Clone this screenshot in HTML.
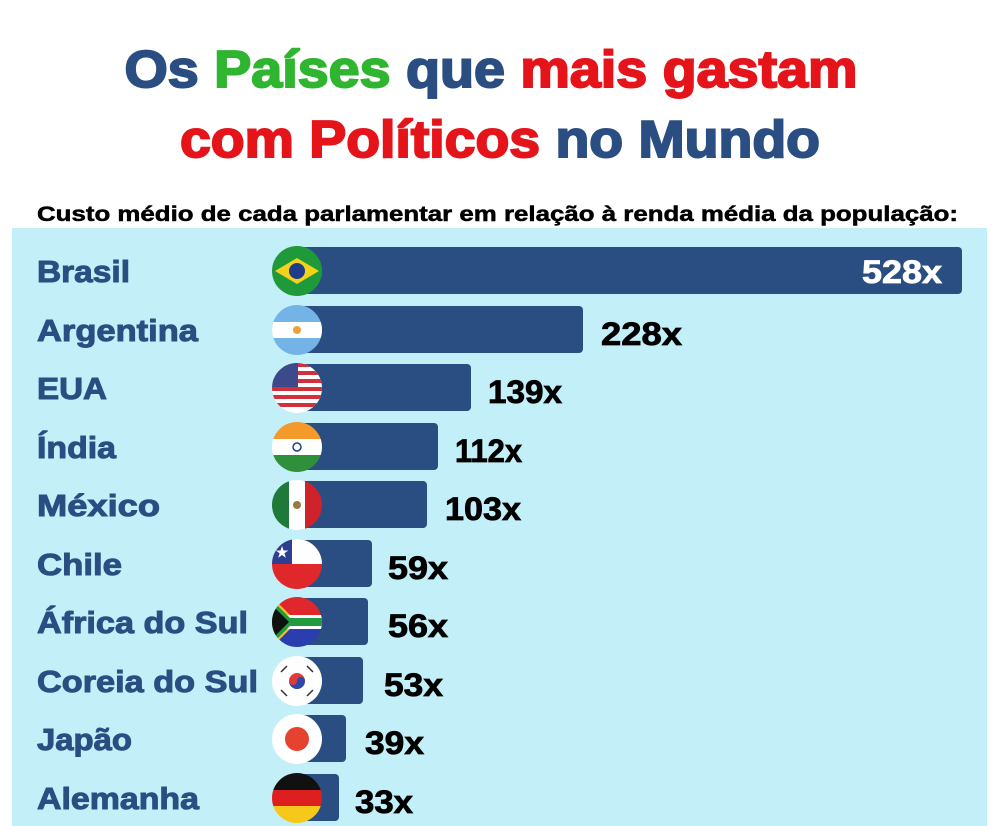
<!DOCTYPE html>
<html><head><meta charset="utf-8"><style>
html,body{margin:0;padding:0;background:#fff;}
svg{display:block;}
text{font-family:"Liberation Sans",Arial,sans-serif;font-weight:bold;}
</style></head><body>
<svg width="1000" height="826" viewBox="0 0 1000 826" xmlns="http://www.w3.org/2000/svg">
<rect width="1000" height="826" fill="#fff"/>
<text x="491" y="87" font-size="52" text-anchor="middle" textLength="733" lengthAdjust="spacingAndGlyphs" stroke-width="2"><tspan fill="#2a4e82" stroke="#2a4e82">Os </tspan><tspan fill="#2fb52f" stroke="#2fb52f">Países </tspan><tspan fill="#2a4e82" stroke="#2a4e82">que </tspan><tspan fill="#e5141b" stroke="#e5141b">mais gastam</tspan></text>
<text x="500" y="157" font-size="52" text-anchor="middle" textLength="640" lengthAdjust="spacingAndGlyphs" stroke-width="2"><tspan fill="#e5141b" stroke="#e5141b">com Políticos </tspan><tspan fill="#2a4e82" stroke="#2a4e82">no Mundo</tspan></text>
<text x="37" y="221" font-size="21" fill="#000" stroke="#000" stroke-width="0.5" textLength="921" lengthAdjust="spacingAndGlyphs">Custo médio de cada parlamentar em relação à renda média da população:</text>
<rect x="12" y="228" width="975" height="598" fill="#c2eff8"/>
<defs>
<clipPath id="c1"><circle cx="297" cy="330" r="25"/></clipPath>
<clipPath id="c2"><circle cx="297" cy="388" r="25"/></clipPath>
<clipPath id="c3"><circle cx="297" cy="447" r="25"/></clipPath>
<clipPath id="c4"><circle cx="297" cy="505" r="25"/></clipPath>
<clipPath id="c5"><circle cx="297" cy="564" r="25"/></clipPath>
<clipPath id="c6"><circle cx="297" cy="622" r="25"/></clipPath>
<clipPath id="c9"><circle cx="297" cy="798" r="25"/></clipPath>
</defs>
<g fill="#2a4e82">
<rect x="300" y="247" width="662" height="47" rx="4"/>
<rect x="300" y="306" width="283" height="47" rx="4"/>
<rect x="300" y="364" width="171" height="47" rx="4"/>
<rect x="300" y="423" width="138" height="47" rx="4"/>
<rect x="300" y="481" width="127" height="47" rx="4"/>
<rect x="300" y="540" width="72" height="47" rx="4"/>
<rect x="300" y="598" width="68" height="47" rx="4"/>
<rect x="300" y="657" width="63" height="47" rx="4"/>
<rect x="300" y="715" width="46" height="47" rx="4"/>
<rect x="300" y="774" width="39" height="47" rx="4"/>
</g>
<g font-size="31" fill="#2a4e82" stroke="#2a4e82" stroke-width="1">
<text x="37" y="282" textLength="93" lengthAdjust="spacingAndGlyphs">Brasil</text>
<text x="37" y="341" textLength="161" lengthAdjust="spacingAndGlyphs">Argentina</text>
<text x="37" y="399" textLength="70" lengthAdjust="spacingAndGlyphs">EUA</text>
<text x="37" y="458" textLength="79" lengthAdjust="spacingAndGlyphs">Índia</text>
<text x="37" y="516" textLength="123" lengthAdjust="spacingAndGlyphs">México</text>
<text x="37" y="575" textLength="85" lengthAdjust="spacingAndGlyphs">Chile</text>
<text x="37" y="633" textLength="211" lengthAdjust="spacingAndGlyphs">África do Sul</text>
<text x="37" y="692" textLength="221" lengthAdjust="spacingAndGlyphs">Coreia do Sul</text>
<text x="37" y="750" textLength="95" lengthAdjust="spacingAndGlyphs">Japão</text>
<text x="37" y="809" textLength="162" lengthAdjust="spacingAndGlyphs">Alemanha</text>
</g>
<g font-size="32" fill="#000" stroke="#000" stroke-width="0.8" lengthAdjust="spacingAndGlyphs">
<text x="862" y="283" fill="#fff" stroke="#fff" textLength="80" lengthAdjust="spacingAndGlyphs">528x</text>
<text x="601" y="345" textLength="81" lengthAdjust="spacingAndGlyphs">228x</text>
<text x="488" y="403" textLength="74" lengthAdjust="spacingAndGlyphs">139x</text>
<text x="455" y="462" textLength="67" lengthAdjust="spacingAndGlyphs">112x</text>
<text x="445" y="520" textLength="76" lengthAdjust="spacingAndGlyphs">103x</text>
<text x="388" y="579" textLength="60" lengthAdjust="spacingAndGlyphs">59x</text>
<text x="388" y="637" textLength="60" lengthAdjust="spacingAndGlyphs">56x</text>
<text x="384" y="696" textLength="59" lengthAdjust="spacingAndGlyphs">53x</text>
<text x="365" y="754" textLength="59" lengthAdjust="spacingAndGlyphs">39x</text>
<text x="355" y="813" textLength="58" lengthAdjust="spacingAndGlyphs">33x</text>
</g>
<circle cx="297" cy="271" r="25" fill="#1f9a3a"/>
<polygon points="275,271 297,258 319,271 297,284" fill="#f2d21a"/>
<circle cx="297" cy="271" r="8" fill="#1e3c8a"/>
<g clip-path="url(#c1)"><rect x="272" y="305" width="50" height="50" fill="#74b3e6"/><rect x="272" y="322" width="50" height="16" fill="#fff"/><circle cx="297" cy="330" r="4" fill="#e8a33a"/></g>
<g clip-path="url(#c2)"><rect x="272" y="363" width="50" height="50" fill="#fff"/>
<g fill="#d2303a"><rect x="272" y="363" width="50" height="4"/><rect x="272" y="371" width="50" height="4"/><rect x="272" y="379" width="50" height="4"/><rect x="272" y="387" width="50" height="4"/><rect x="272" y="395" width="50" height="4"/><rect x="272" y="403" width="50" height="4"/></g>
<rect x="272" y="363" width="26" height="24" fill="#3c4a8c"/></g>
<g clip-path="url(#c3)"><rect x="272" y="422" width="50" height="17" fill="#f39a2b"/><rect x="272" y="439" width="50" height="16" fill="#fff"/><rect x="272" y="455" width="50" height="17" fill="#2f8f3a"/><circle cx="297" cy="447" r="4" fill="none" stroke="#1e3c8a" stroke-width="1.5"/></g>
<g clip-path="url(#c4)"><rect x="272" y="480" width="17" height="50" fill="#1f7a3a"/><rect x="289" y="480" width="16" height="50" fill="#fff"/><rect x="305" y="480" width="17" height="50" fill="#d0222b"/><circle cx="297" cy="505" r="4" fill="#9a7a3a"/></g>
<g clip-path="url(#c5)"><rect x="272" y="539" width="50" height="50" fill="#e0282c"/><rect x="272" y="539" width="50" height="25" fill="#fff"/><rect x="272" y="539" width="20" height="25" fill="#2e3e90"/><text x="282" y="557" font-size="14" fill="#fff" text-anchor="middle">★</text></g>
<g clip-path="url(#c6)"><rect x="272" y="597" width="50" height="25" fill="#e0282c"/><rect x="272" y="622" width="50" height="25" fill="#2a3eb0"/><polygon points="272,597 297,622 272,647" fill="#f6c21c"/><rect x="272" y="615" width="50" height="14" fill="#fff"/><polygon points="272,600 294,622 272,644" fill="#229a3f"/><rect x="285" y="618" width="37" height="8" fill="#229a3f"/><polygon points="272,605 289,622 272,639" fill="#111"/></g>
<circle cx="297" cy="681" r="25" fill="#fff"/><circle cx="297" cy="681" r="8" fill="#e03a3a"/><path d="M289,681 a8,8 0 0 0 16,0 a4,4 0 0 0 -8,0 a4,4 0 0 1 -8,0z" fill="#2a4ab0"/>
<g stroke="#333" stroke-width="1.5"><line x1="281" y1="672" x2="287" y2="666"/><line x1="307" y1="666" x2="313" y2="672"/><line x1="281" y1="690" x2="287" y2="696"/><line x1="307" y1="696" x2="313" y2="690"/></g>
<circle cx="297" cy="739" r="25" fill="#fff"/><circle cx="297" cy="739" r="12" fill="#e5422f"/>
<g clip-path="url(#c9)"><rect x="272" y="773" width="50" height="17" fill="#111"/><rect x="272" y="790" width="50" height="16" fill="#dd1f1f"/><rect x="272" y="806" width="50" height="17" fill="#f7c81a"/></g>
</svg>
</body></html>
